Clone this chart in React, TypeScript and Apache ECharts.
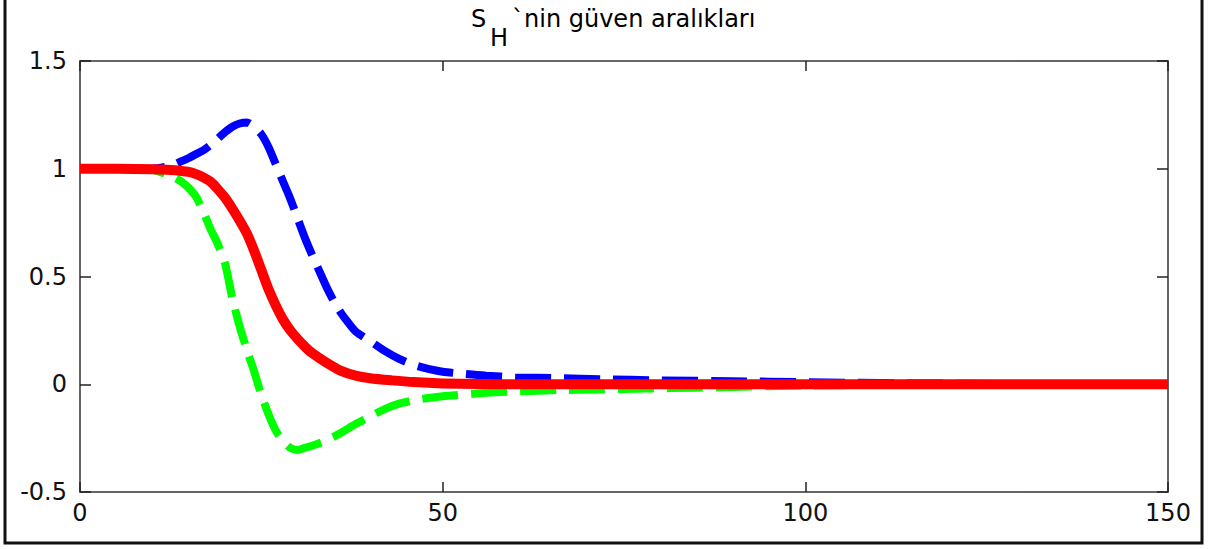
import React, { useEffect, useRef } from "react";
import * as echarts from "echarts";

// Sample positions (time steps) and values for each curve
const redX = [0, 5, 10, 12, 14, 15, 16, 17, 18, 19, 20, 21, 22, 23, 24, 25, 26, 27, 28, 29, 30, 31, 32, 34, 36, 38, 40, 43, 46, 50, 55, 60, 150];
const redY = [1, 1, 0.998, 0.995, 0.99, 0.985, 0.975, 0.96, 0.94, 0.905, 0.865, 0.815, 0.76, 0.7, 0.62, 0.53, 0.44, 0.365, 0.3, 0.25, 0.21, 0.175, 0.145, 0.1, 0.062, 0.04, 0.028, 0.018, 0.01, 0.004, 0.001, 0, 0];

const upperX = [0, 8, 10, 12, 13, 14, 15, 16, 17, 18, 19, 20, 21, 22, 23, 24, 25, 26, 27, 28, 29, 30, 31, 32, 33, 34, 35, 36, 37, 38, 40, 42, 44, 46, 48, 50, 53, 56, 60, 66, 72, 80, 90, 100, 106, 115, 130, 150];
const upperY = [1, 1, 1.0, 1.01, 1.02, 1.035, 1.05, 1.068, 1.085, 1.11, 1.14, 1.17, 1.195, 1.21, 1.215, 1.195, 1.16, 1.1, 1.02, 0.94, 0.86, 0.77, 0.68, 0.6, 0.525, 0.45, 0.385, 0.33, 0.285, 0.245, 0.2, 0.155, 0.118, 0.09, 0.071, 0.058, 0.048, 0.04, 0.033, 0.028, 0.023, 0.018, 0.014, 0.01, 0.007, 0.004, 0.001, 0];

const lowerX = [0, 8, 10, 11, 12, 13, 14, 15, 16, 17, 18, 19, 20, 21, 22, 23, 24, 25, 26, 27, 28, 29, 30, 31, 32, 34, 36, 38, 40, 42, 44, 46, 48, 50, 52, 55, 58, 62, 66, 72, 78, 85, 90, 95, 100, 110, 130, 150];
const lowerY = [1, 1, 0.995, 0.985, 0.975, 0.96, 0.94, 0.91, 0.87, 0.8, 0.72, 0.65, 0.56, 0.4, 0.27, 0.16, 0.06, -0.05, -0.14, -0.215, -0.265, -0.295, -0.305, -0.295, -0.285, -0.26, -0.225, -0.185, -0.15, -0.115, -0.09, -0.075, -0.064, -0.056, -0.05, -0.042, -0.036, -0.031, -0.027, -0.024, -0.02, -0.016, -0.013, -0.009, -0.006, -0.003, -0.001, 0];

const xTicks = { min: 0, max: 150, step: 50 };
const yTicks = { min: -0.5, max: 1.5, step: 0.5 };

const titleMain = "S";
const titleSub = "H";
const titleRest = "`nin güven aralıkları";

const pairs = (xs: number[], ys: number[]) => xs.map((x, i) => [x, ys[i]]);

const FONT = "DejaVu Sans";
const AXIS_COLOR = "#333";

export default function App() {
  const ref = useRef<HTMLDivElement>(null);

  useEffect(() => {
    if (!ref.current) return;
    const chart = echarts.init(ref.current, undefined, { renderer: "svg" });

    const xBase = {
      type: "value" as const,
      min: xTicks.min,
      max: xTicks.max,
      interval: xTicks.step,
      splitLine: { show: false },
      axisLine: { show: true, onZero: false, lineStyle: { color: AXIS_COLOR, width: 1.5 } },
      axisTick: { show: true, inside: true, length: 10, lineStyle: { color: "#222", width: 1.5 } },
    };
    const yBase = {
      type: "value" as const,
      min: yTicks.min,
      max: yTicks.max,
      interval: yTicks.step,
      splitLine: { show: false },
      axisLine: { show: true, onZero: false, lineStyle: { color: AXIS_COLOR, width: 1.5 } },
      axisTick: { show: true, inside: true, length: 11, lineStyle: { color: "#222", width: 1.5 } },
    };
    const labelStyle = { fontFamily: FONT, fontSize: 24, color: "#111" };

    const dashed = (color: string) => ({
      color,
      width: 8,
      type: [36, 13] as number[],
      cap: "butt" as const,
    });

    chart.setOption({
      animation: false,
      backgroundColor: "#fff",
      grid: { left: 80, top: 61, right: 41, bottom: 57, containLabel: false },
      xAxis: [
        { ...xBase, position: "bottom", axisLabel: { ...labelStyle, margin: 9 } },
        { ...xBase, position: "top", axisLabel: { show: false } },
      ],
      yAxis: [
        { ...yBase, position: "left", axisLabel: { ...labelStyle, margin: 13 } },
        { ...yBase, position: "right", axisLabel: { show: false } },
      ],
      series: [
        {
          type: "line",
          data: pairs(lowerX, lowerY),
          showSymbol: false,
          smooth: 0.25,
          lineStyle: dashed("#00ff00"),
          z: 2,
        },
        {
          type: "line",
          data: pairs(upperX, upperY),
          showSymbol: false,
          smooth: 0.25,
          lineStyle: dashed("#0000ff"),
          z: 3,
        },
        {
          type: "line",
          data: pairs(redX, redY),
          showSymbol: false,
          smooth: 0.25,
          lineStyle: { color: "#ff0000", width: 10, cap: "butt", join: "round" },
          z: 4,
        },
      ],
      graphic: [
        {
          type: "rect",
          shape: { x: 5, y: -10, width: 1197, height: 553 },
          style: { fill: "none", stroke: "#111", lineWidth: 3 },
          silent: true,
        },
        {
          type: "text",
          x: 471,
          y: 18.7,
          style: { text: titleMain, font: `24px "${FONT}"`, fill: "#000", align: "left", verticalAlign: "middle" },
        },
        {
          type: "text",
          x: 490,
          y: 38.3,
          style: { text: titleSub, font: `24px "${FONT}"`, fill: "#000", align: "left", verticalAlign: "middle" },
        },
        {
          type: "text",
          x: 512,
          y: 18.7,
          style: { text: titleRest, font: `24px "${FONT}"`, fill: "#000", align: "left", verticalAlign: "middle" },
        },
      ],
    });

    return () => chart.dispose();
  }, []);

  return (
    <div
      ref={ref}
      style={{ position: "fixed", left: 0, top: 0, width: 1209, height: 549 }}
    />
  );
}
